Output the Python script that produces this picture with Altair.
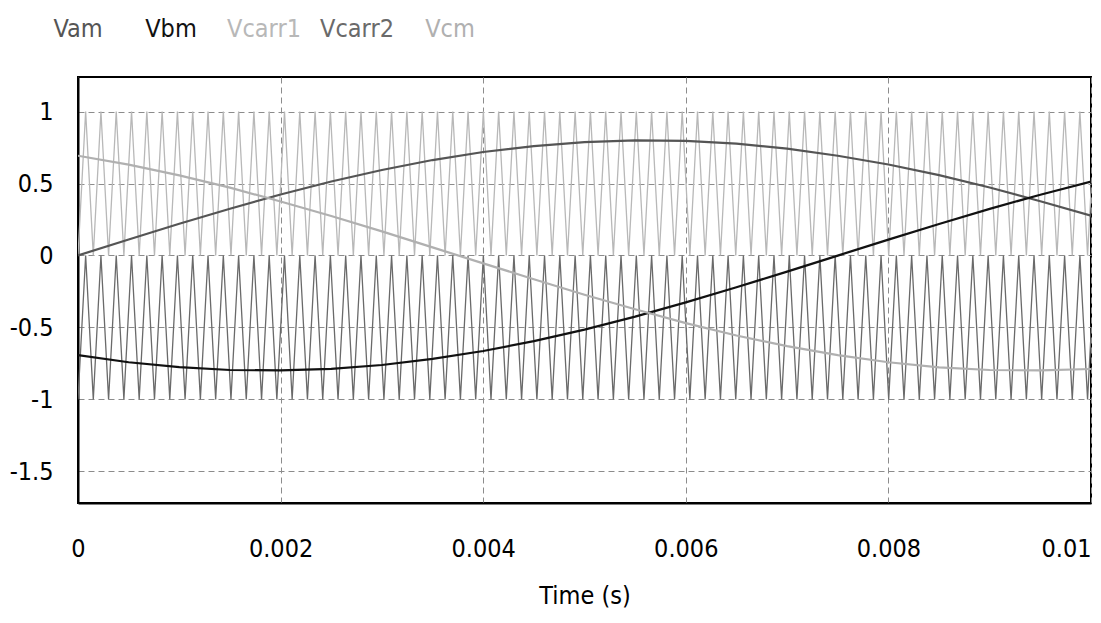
import altair as alt
import pandas as pd

# ---- data ----
time_s = [0.0, 0.0005, 0.001, 0.0015, 0.002, 0.0025, 0.003, 0.0035, 0.004, 0.0045,
          0.005, 0.0055, 0.006, 0.0065, 0.007, 0.0075, 0.008, 0.0085, 0.009, 0.0095, 0.01]
vam = [0.0, 0.111, 0.220, 0.325, 0.424, 0.514, 0.594, 0.663, 0.719, 0.760,
       0.788, 0.799, 0.796, 0.777, 0.742, 0.693, 0.632, 0.558, 0.472, 0.377, 0.276]
vbm = [-0.693, -0.742, -0.776, -0.796, -0.799, -0.788, -0.761, -0.719, -0.664, -0.595,
       -0.515, -0.425, -0.326, -0.221, -0.112, -0.001, 0.110, 0.219, 0.324, 0.422, 0.513]
vcm = [0.693, 0.631, 0.556, 0.471, 0.375, 0.274, 0.167, 0.056, -0.055, -0.165,
       -0.273, -0.374, -0.470, -0.556, -0.630, -0.692, -0.742, -0.777, -0.796, -0.799, -0.789]

# triangle carriers: period and levels
carrier_period = 0.000151
carrier1_levels = [0.0, 1.0]
carrier2_levels = [-1.0, 0.0]
t_end = 0.01

names = ["Vam", "Vbm", "Vcarr1", "Vcarr2", "Vcm"]
line_colors = ["#4a4a4a", "#111111", "#b0b0b0", "#7a7a7a", "#a4a4a4"]
legend_colors = ["#555555", "#111111", "#b8b8b8", "#6a6a6a", "#b0b0b0"]

x_ticks = [0, 0.002, 0.004, 0.006, 0.008, 0.01]
y_ticks = [-1.5, -1, -0.5, 0, 0.5, 1]

FONT = "DejaVu Sans Condensed, Liberation Sans Narrow, Roboto Condensed, sans-serif"

# ---- build tables ----
rows = []
for name, vals in (("Vam", vam), ("Vbm", vbm), ("Vcm", vcm)):
    for t, v in zip(time_s, vals):
        rows.append({"t": t, "v": v, "series": name})
sines = pd.DataFrame(rows)

crow = []
half = carrier_period / 2
k = 0
while True:
    t = k * half
    crow.append({"t": t, "v": carrier1_levels[k % 2], "series": "Vcarr1"})
    crow.append({"t": t, "v": carrier2_levels[k % 2], "series": "Vcarr2"})
    if t > t_end:
        break
    k += 1
carriers = pd.DataFrame(crow)

color_scale = alt.Scale(domain=names, range=line_colors)

x_enc = alt.X(
    "t:Q",
    scale=alt.Scale(domain=[0, 0.01], nice=False, zero=False),
    axis=alt.Axis(
        values=x_ticks,
        title="Time (s)",
        labelExpr="'' + datum.value",
        labelFlush=False,
        labelAlign={"condition": {"test": "datum.value >= 0.01", "value": "right"}, "value": "center"},
        labelPadding=33,
        ticks=False,
        titlePadding=22,
    ),
)
y_enc = alt.Y(
    "v:Q",
    scale=alt.Scale(domain=[-1.72, 1.24], nice=False, zero=False),
    axis=alt.Axis(
        values=y_ticks,
        title=None,
        labelExpr="'' + datum.value",
        labelPadding=25,
        ticks=False,
    ),
)

carrier_layer = alt.Chart(carriers).mark_line(strokeWidth=1.3, clip=True).encode(
    x=x_enc, y=y_enc,
    color=alt.Color("series:N", scale=color_scale, legend=None),
    detail="series:N",
)
sine_layer = alt.Chart(sines).mark_line(strokeWidth=2.2, clip=True).encode(
    x=x_enc, y=y_enc,
    color=alt.Color("series:N", scale=color_scale, legend=None),
    detail="series:N",
)

main = alt.layer(carrier_layer, sine_layer).properties(
    width=1013, height=426,
    view=alt.ViewBackground(stroke="#000000", strokeWidth=2),
)

legend_df = pd.DataFrame({"name": names})
legend = alt.Chart(legend_df).mark_text(
    font=FONT, fontSize=25, align="center", baseline="middle"
).encode(
    x=alt.X("name:N", sort=None, scale=alt.Scale(padding=0), axis=None),
    text="name:N",
    color=alt.Color("name:N", sort=None, scale=alt.Scale(domain=names, range=legend_colors), legend=None),
).properties(
    width=372, height=40,
    view=alt.ViewBackground(stroke="transparent"),
)

chart = alt.vconcat(legend, main, spacing=26).properties(
    padding={"left": 0, "top": 0, "right": 0, "bottom": 0},
    background="white",
).configure_axis(
    labelFont=FONT,
    labelFontSize=25,
    labelColor="#000000",
    titleFont=FONT,
    titleFontSize=25,
    titleFontWeight="normal",
    titleColor="#000000",
    domainColor="#000000",
    domainWidth=2,
    gridColor="#8c8c8c",
    gridDash=[6, 4],
    gridWidth=1,
)

chart.save("out.html", embed_options={"renderer": "svg", "actions": False})
